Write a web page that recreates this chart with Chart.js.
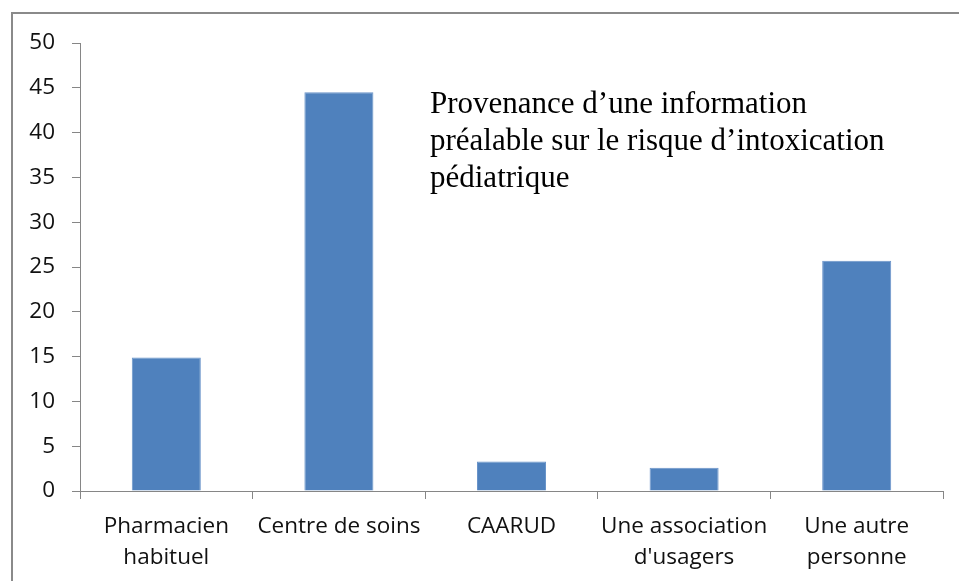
<!DOCTYPE html>
<html>
<head>
<meta charset="utf-8">
<script src="https://cdn.jsdelivr.net/npm/chart.js@4/dist/chart.umd.min.js"></script>
<style>
  html, body { margin: 0; padding: 0; background: #fff; overflow: hidden; }
  #wrap { position: relative; width: 959px; height: 581px; }
  #frame {
    position: absolute; left: 11px; top: 12px; width: 960px; height: 580px;
    border-top: 2px solid #8a8a8a; border-left: 2px solid #8a8a8a;
  }
  canvas { position: absolute; left: 0; top: 0; }
</style>
</head>
<body>
<div id="wrap">
  <div id="frame"></div>
  <canvas id="chart" width="959" height="581"></canvas>
</div>
<script>
const categories = [
  ["Pharmacien", "habituel"],
  ["Centre de soins"],
  ["CAARUD"],
  ["Une association", "d'usagers"],
  ["Une autre", "personne"]
];
const values = [14.9, 44.5, 3.3, 2.6, 25.7];
const titleLines = [
  "Provenance d\u2019une information",
  "pr\u00e9alable sur le risque d\u2019intoxication",
  "p\u00e9diatrique"
];

const axisColor = "#868686";
const labelFont = { family: "'Open Sans', sans-serif", size: 22.5, lineHeight: 1.38 };

// title sits inside the plot area, like the original
const innerTitle = {
  id: "innerTitle",
  afterDraw(chart) {
    const ctx = chart.ctx;
    ctx.save();
    ctx.fillStyle = "#000";
    ctx.font = "31px 'Liberation Serif', serif";
    ctx.textBaseline = "alphabetic";
    titleLines.forEach((line, i) => {
      ctx.fillText(line, 430, 113 + i * 37);
    });
    ctx.restore();
  }
};

new Chart(document.getElementById("chart"), {
  type: "bar",
  data: {
    labels: categories,
    datasets: [
      {
        data: values,
        backgroundColor: "#4F81BD",
        borderColor: "#6a94c9",
        borderWidth: 1,
        barPercentage: 0.4,
        categoryPercentage: 1,
      },
    ],
  },
  options: {
    responsive: false,
    animation: false,
    layout: { padding: { top: 43, right: 16, left: 0, bottom: 0 } },
    plugins: {
      legend: { display: false },
      tooltip: { enabled: false },
    },
    scales: {
      x: {
        grid: {
          drawOnChartArea: false,
          drawTicks: true,
          tickLength: 8,
          color: axisColor,
        },
        border: { display: true, color: axisColor, width: 1 },
        ticks: {
          color: "#111",
          font: labelFont,
          padding: 12,
          maxRotation: 0,
          autoSkip: false,
        },
        afterFit(scale) { scale.height = 90; },
      },
      y: {
        min: 0,
        max: 50,
        grid: {
          drawOnChartArea: false,
          drawTicks: true,
          tickLength: 8,
          color: axisColor,
        },
        border: { display: true, color: axisColor, width: 1 },
        ticks: {
          stepSize: 5,
          color: "#111",
          font: labelFont,
          padding: 17,
        },
        afterFit(scale) { scale.width = 80; },
      },
    },
  },
  plugins: [innerTitle],
});
</script>
</body>
</html>
